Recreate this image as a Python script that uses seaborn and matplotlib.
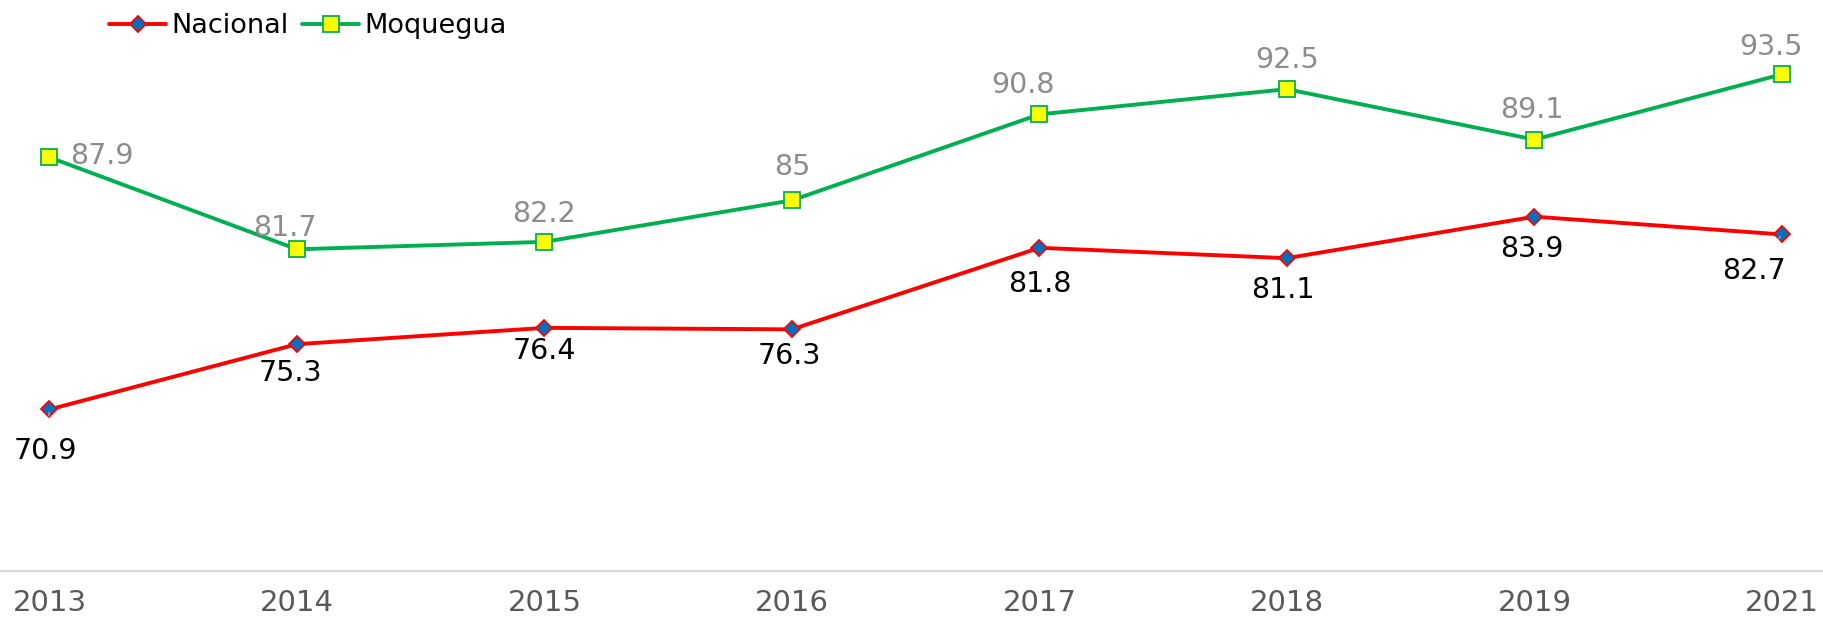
import matplotlib
matplotlib.use('Agg')
import matplotlib.pyplot as plt
import pandas as pd
import seaborn as sns

years=['2013','2014','2015','2016','2017','2018','2019','2021']
nacional=[70.9,75.3,76.4,76.3,81.8,81.1,83.9,82.7]
moquegua=[87.9,81.7,82.2,85,90.8,92.5,89.1,93.5]

# label offsets in points (dx, dy)
off_nac=[(-3,-30),(-5,-21),(0,-17),(-2,-19),(0,-26),(-3,-23),(-2,-23),(-20,-26)]
off_moq=[(38,1),(-9,15),(0,20),(0,24),(-12,21),(0,21),(-2,21),(-8,20)]

df=pd.DataFrame({'Año':years,'Nacional':nacional,'Moquegua':moquegua})

sns.set_style("white")
plt.rcParams['font.family']=['DejaVu Sans']

fig=plt.figure(figsize=(18.23,6.2),dpi=100)
ax=fig.add_axes([0,0.079,1,0.837])

sns.lineplot(data=df,x='Año',y='Nacional',ax=ax,color='#ff0000',lw=2.8,
             marker='D',markersize=8.5,markerfacecolor='#0070c0',markeredgecolor='#ff0000',
             markeredgewidth=1.3,label='Nacional',sort=False)
sns.lineplot(data=df,x='Año',y='Moquegua',ax=ax,color='#00b050',lw=2.8,
             marker='s',markersize=11.5,markerfacecolor='#ffff00',markeredgecolor='#00b050',
             markeredgewidth=1.3,label='Moquegua',sort=False)

for i,v in enumerate(nacional):
    dx,dy=off_nac[i]
    ap=None
    if i in (0,7):
        ap=dict(arrowstyle='-',color='#a6a6a6',lw=1,shrinkA=13,shrinkB=2)
    ax.annotate(f'{v:g}',(i,v),xytext=(dx,dy),textcoords='offset points',
                ha='center',va='center',fontsize=20.5,color='black',arrowprops=ap)
for i,v in enumerate(moquegua):
    dx,dy=off_moq[i]
    ax.annotate(f'{v:g}',(i,v),xytext=(dx,dy),textcoords='offset points',
                ha='center',va='center',fontsize=20.5,color='#8c8c8c')

ax.set_ylim(60,95)
ax.set_xlim(-0.2,7.166)
ax.set_xlabel('')
ax.set_ylabel('')
ax.set_yticks([])
for s in ['top','left','right']:
    ax.spines[s].set_visible(False)
ax.spines['bottom'].set_color('#d9d9d9')
ax.spines['bottom'].set_linewidth(1.5)
ax.tick_params(axis='x',length=0,pad=13,labelsize=21,labelcolor='#595959')
ax.set_xticks(range(len(years)))
ax.set_xticklabels(years)

leg=ax.legend(loc='upper left',bbox_to_anchor=(0.051,1.005),bbox_transform=fig.transFigure,
              ncol=2,frameon=False,handlelength=2.1,handletextpad=0.2,
              columnspacing=0.5,borderaxespad=0.2,fontsize=19.5)
for t in leg.get_texts():
    t.set_color('black')

fig.savefig('out.png',dpi=100)
